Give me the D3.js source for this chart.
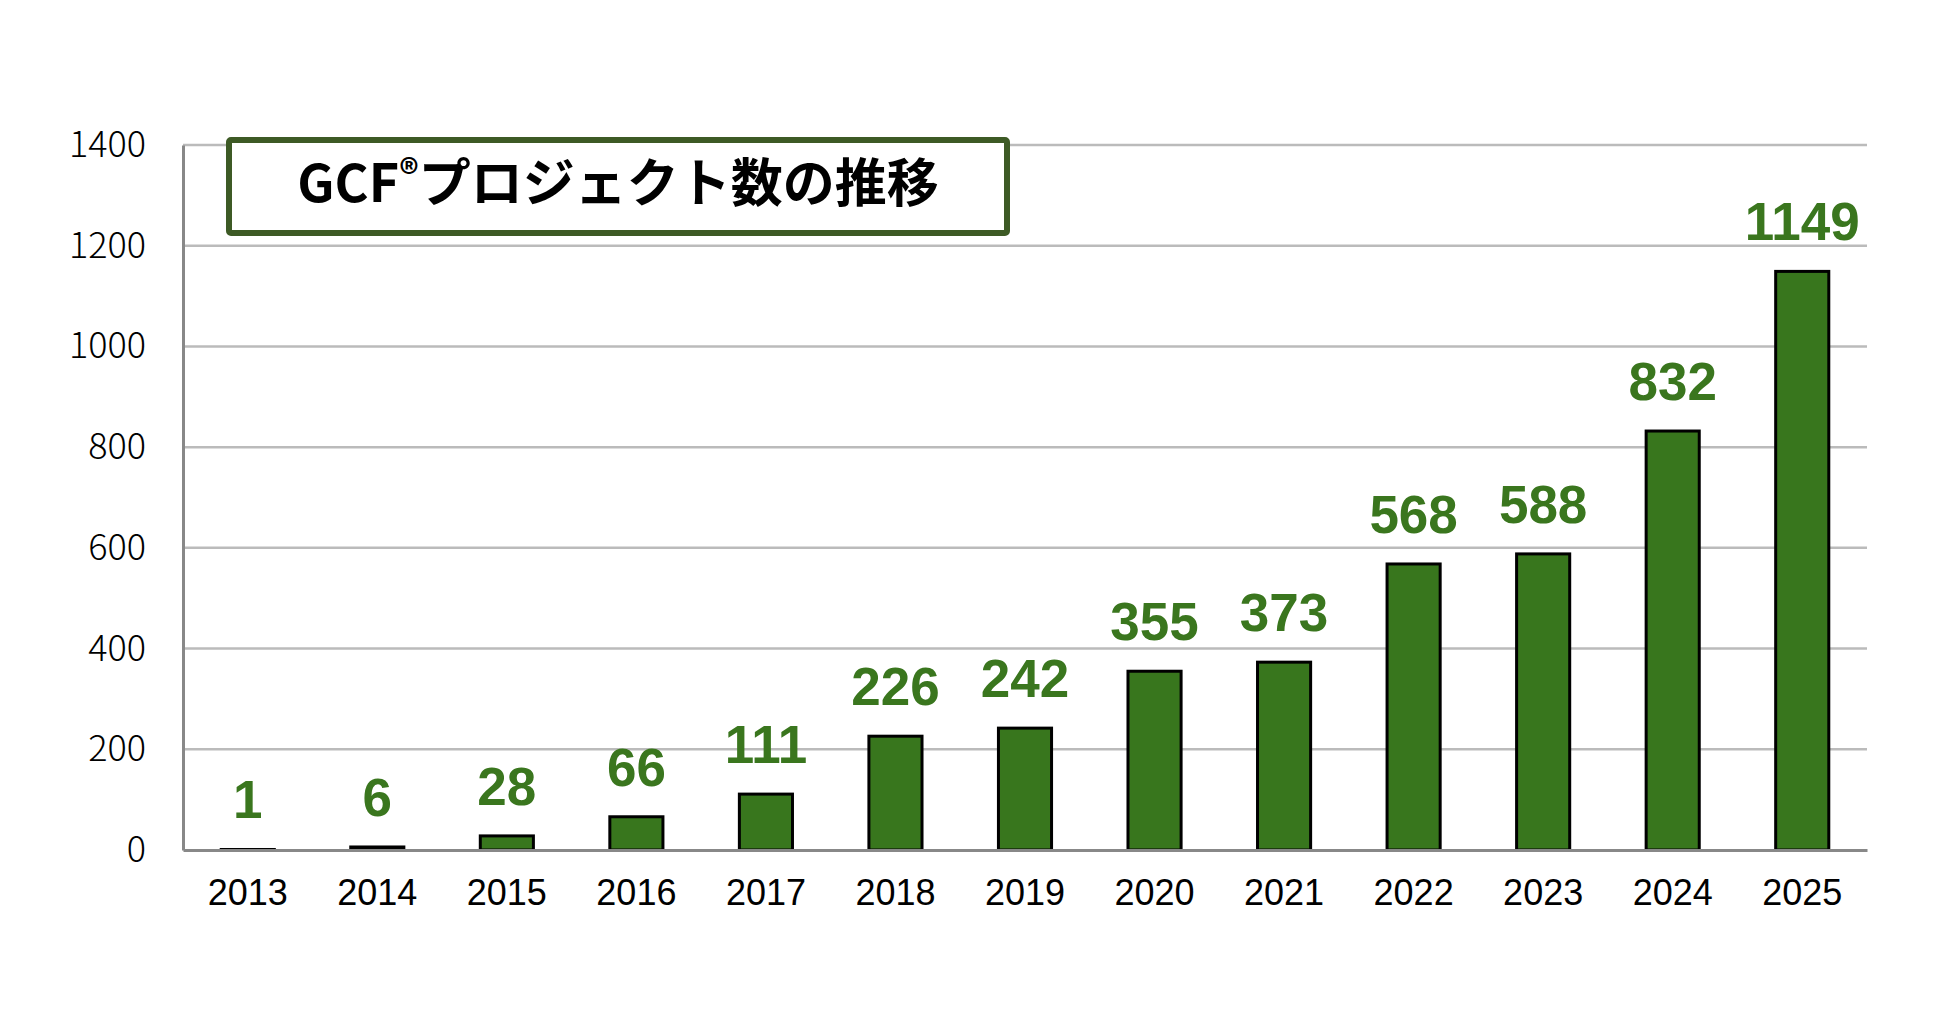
<!DOCTYPE html>
<html lang="ja">
<head>
<meta charset="UTF-8">
<title>GCF project count</title>
<script src="https://cdnjs.cloudflare.com/ajax/libs/d3/7.8.5/d3.min.js"></script>
<style>
  body { margin: 0; background: #fff; }
  svg { display: block; }
</style>
</head>
<body>
<script>
// data
var years  = ["2013","2014","2015","2016","2017","2018","2019","2020","2021","2022","2023","2024","2025"];
var counts = [1, 6, 28, 66, 111, 226, 242, 355, 373, 568, 588, 832, 1149];
var yTicks = [0, 200, 400, 600, 800, 1000, 1200, 1400];
var title  = "GCF";
var titleRest = "プロジェクト数の推移";

var W = 1935, H = 1023;
var plotLeft = 183, plotRight = 1867, plotTop = 145, plotBottom = 850;

var svg = d3.select("body").append("svg")
    .attr("width", W)
    .attr("height", H);

var x = d3.scaleBand()
    .domain(years)
    .range([plotLeft, plotRight])
    .paddingInner(0.59)
    .paddingOuter(0.295);

var y = d3.scaleLinear()
    .domain([0, 1400])
    .range([plotBottom, plotTop]);

// gridlines
svg.append("g")
  .selectAll("line")
  .data(yTicks.filter(function(d) { return d > 0; }))
  .enter().append("line")
    .attr("x1", plotLeft).attr("x2", plotRight)
    .attr("y1", function(d) { return y(d); })
    .attr("y2", function(d) { return y(d); })
    .style("stroke", "#bbbbbb")
    .style("stroke-width", 2.5);

// y axis
var yAxis = svg.append("g")
    .attr("transform", "translate(" + plotLeft + ",0)")
    .call(d3.axisLeft(y).tickValues(yTicks).tickFormat(d3.format("d")).tickSize(0).tickPadding(37));
yAxis.select(".domain").style("stroke", "#888888").style("stroke-width", 3);
yAxis.selectAll("text")
    .style("font-family", "'Noto Sans CJK JP', sans-serif")
    .style("font-weight", "300")
    .style("font-size", "36px")
    .style("fill", "#000");

// bars
svg.append("g")
  .selectAll("rect")
  .data(counts)
  .enter().append("rect")
    .attr("x", function(d, i) { return x(years[i]); })
    .attr("width", x.bandwidth())
    .attr("y", function(d) { return y(d); })
    .attr("height", function(d) { return y(0) - y(d); })
    .style("fill", "#38761d")
    .style("stroke", "#000")
    .style("stroke-width", 3);

// x axis
var xAxis = svg.append("g")
    .attr("transform", "translate(0," + plotBottom + ")")
    .call(d3.axisBottom(x).tickSize(0).tickPadding(29));
xAxis.select(".domain").style("stroke", "#888888").style("stroke-width", 3);
xAxis.selectAll("text")
    .style("font-family", "'Liberation Sans', Arial, sans-serif")
    .style("font-size", "36px")
    .style("fill", "#000");

// value labels
svg.append("g")
  .selectAll("text")
  .data(counts)
  .enter().append("text")
    .attr("x", function(d, i) { return x(years[i]) + x.bandwidth() / 2; })
    .attr("y", function(d) { return y(d) - 31; })
    .attr("text-anchor", "middle")
    .style("font-family", "'Liberation Sans', Arial, sans-serif")
    .style("font-weight", "bold")
    .style("font-size", "53px")
    .style("fill", "#3a761e")
    .text(function(d) { return d; });

// title box
svg.append("rect")
    .attr("x", 229).attr("y", 140)
    .attr("width", 778).attr("height", 93)
    .attr("rx", 2)
    .style("fill", "#fff")
    .style("stroke", "#3d5a25")
    .style("stroke-width", 6);

var t = svg.append("text")
    .attr("x", 618).attr("y", 202)
    .attr("text-anchor", "middle")
    .style("font-family", "'Noto Sans CJK JP', sans-serif")
    .style("font-weight", "bold")
    .style("font-size", "52px")
    .style("fill", "#000");
t.append("tspan").text(title);
t.append("tspan").attr("dy", -15).style("font-size", "38px").text("®");
t.append("tspan").attr("dy", 15).text(titleRest);
</script>
</body>
</html>
